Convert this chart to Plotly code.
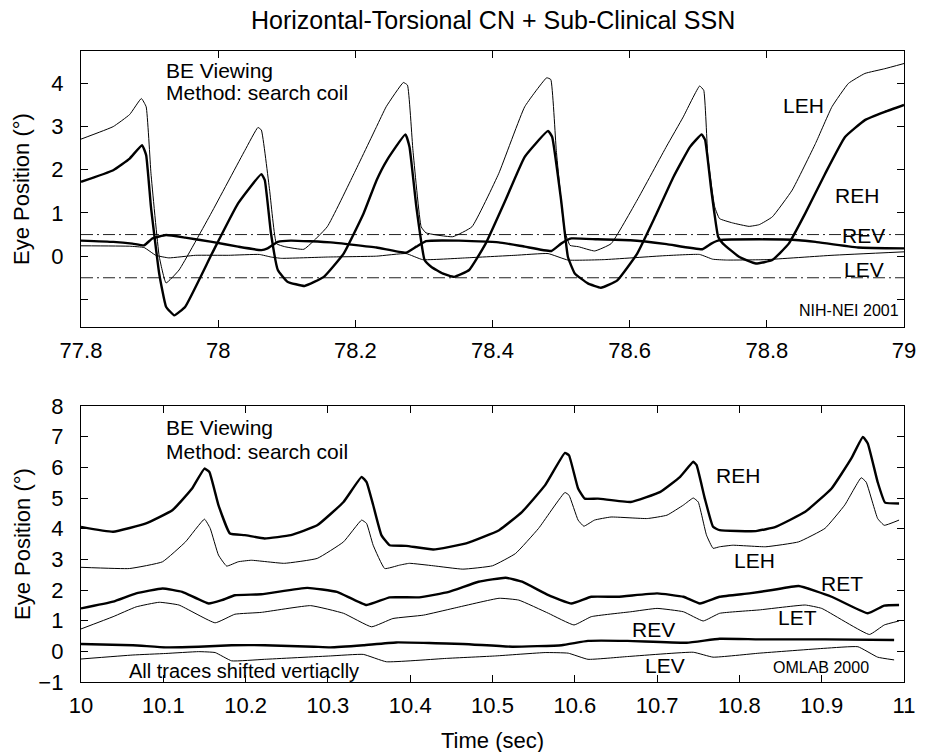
import plotly.graph_objects as go

# ---------------- TOP PANEL DATA (time 77.8 - 79 s) ----------------
top_leh_t = [77.800, 77.847, 77.871, 77.888, 77.895, 77.902, 77.914, 77.924, 77.943, 77.990,
             78.039, 78.058, 78.063, 78.075, 78.085, 78.097, 78.125, 78.159, 78.198, 78.231,
             78.245, 78.270, 78.276, 78.284, 78.296, 78.303, 78.342, 78.370, 78.409, 78.447,
             78.479, 78.485, 78.493, 78.505, 78.513, 78.525, 78.549, 78.573, 78.611, 78.654,
             78.678, 78.702, 78.708, 78.714, 78.724, 78.731, 78.750, 78.774, 78.789, 78.808,
             78.837, 78.871, 78.895, 78.919, 78.943, 78.972, 79.000]
top_leh_y = [2.71, 3.00, 3.28, 3.65, 3.46, 1.92, 0.00, -0.62, -0.32, 1.00,
             2.45, 2.98, 2.92, 1.53, 0.29, 0.22, 0.16, 0.68, 1.91, 3.00,
             3.46, 4.02, 3.96, 2.45, 0.68, 0.54, 0.45, 0.68, 1.91, 3.46,
             4.13, 4.09, 2.45, 0.60, 0.25, 0.22, 0.12, 0.29, 1.30, 2.55,
             3.22, 3.94, 3.84, 2.30, 1.14, 0.87, 0.77, 0.69, 0.73, 0.91,
             1.53, 2.61, 3.46, 4.00, 4.23, 4.34, 4.46]

top_reh_t = [77.800, 77.847, 77.871, 77.889, 77.895, 77.902, 77.914, 77.924, 77.936, 77.952,
             77.991, 78.029, 78.063, 78.068, 78.077, 78.087, 78.101, 78.126, 78.154, 78.183,
             78.212, 78.231, 78.246, 78.273, 78.279, 78.289, 78.301, 78.311, 78.327, 78.344,
             78.366, 78.390, 78.419, 78.447, 78.481, 78.487, 78.500, 78.510, 78.520, 78.539,
             78.558, 78.582, 78.611, 78.637, 78.664, 78.688, 78.705, 78.710, 78.719, 78.729,
             78.736, 78.760, 78.784, 78.808, 78.832, 78.856, 78.885, 78.914, 78.943, 78.972,
             79.000]
top_reh_y = [1.72, 1.99, 2.26, 2.57, 2.34, 1.14, -0.40, -1.17, -1.37, -1.17,
             0.06, 1.22, 1.90, 1.76, 0.53, -0.32, -0.59, -0.69, -0.48, 0.06,
             0.99, 1.76, 2.22, 2.82, 2.53, 1.14, -0.09, -0.25, -0.40, -0.48,
             -0.32, 0.29, 1.30, 2.30, 2.90, 2.76, 1.30, -0.02, -0.40, -0.63,
             -0.73, -0.56, 0.06, 0.91, 1.84, 2.53, 2.82, 2.69, 1.53, 0.45,
             0.29, -0.02, -0.17, -0.09, 0.29, 0.99, 1.91, 2.76, 3.15, 3.34,
             3.50]

top_rev_t = [77.800, 77.847, 77.875, 77.892, 77.904, 77.924, 77.952, 77.991, 78.029, 78.063,
             78.072, 78.087, 78.106, 78.164, 78.231, 78.274, 78.289, 78.303, 78.351, 78.409,
             78.447, 78.486, 78.500, 78.515, 78.553, 78.601, 78.654, 78.706, 78.719, 78.731,
             78.789, 78.847, 78.871, 78.933, 79.000]
top_rev_y = [0.36, 0.33, 0.29, 0.25, 0.41, 0.49, 0.43, 0.33, 0.22, 0.14,
             0.18, 0.33, 0.36, 0.32, 0.20, 0.08, 0.22, 0.35, 0.36, 0.32,
             0.22, 0.12, 0.29, 0.41, 0.39, 0.37, 0.28, 0.16, 0.29, 0.37,
             0.39, 0.37, 0.33, 0.20, 0.18]

top_lev_t = [77.800, 77.871, 77.892, 77.909, 77.928, 77.967, 78.015, 78.060, 78.077, 78.092,
             78.159, 78.231, 78.274, 78.298, 78.361, 78.433, 78.481, 78.510, 78.563, 78.650,
             78.702, 78.721, 78.741, 78.799, 78.895, 79.000]
top_lev_y = [0.24, 0.23, 0.20, 0.02, -0.04, 0.02, 0.02, 0.04, -0.02, -0.05,
             -0.02, 0.00, 0.06, -0.08, -0.04, 0.02, 0.06, -0.09, -0.08, 0.01,
             0.04, -0.07, -0.09, -0.08, 0.02, 0.10]

top_ref_levels = [0.5, -0.5]          # dash-dot reference lines
top_xrange = [77.8, 79.0]
top_xticks = [77.8, 78.0, 78.2, 78.4, 78.6, 78.8, 79.0]
top_xticktext = ["77.8", "78", "78.2", "78.4", "78.6", "78.8", "79"]
top_yticks = [-1, 0, 1, 2, 3, 4]
top_yticktext = ["", "0", "1", "2", "3", "4"]

# ---------------- BOTTOM PANEL DATA (time 10 - 11 s) ----------------
bot_reh_t = [10.000, 10.039, 10.079, 10.111, 10.135, 10.150, 10.156, 10.167, 10.181, 10.199,
             10.223, 10.255, 10.287, 10.319, 10.341, 10.347, 10.355, 10.365, 10.375, 10.395,
             10.428, 10.468, 10.508, 10.536, 10.564, 10.588, 10.593, 10.604, 10.612, 10.628,
             10.668, 10.704, 10.728, 10.744, 10.748, 10.758, 10.768, 10.776, 10.820, 10.844,
             10.880, 10.912, 10.936, 10.950, 10.956, 10.968, 10.977, 10.994]
bot_reh_y = [4.06, 3.90, 4.17, 4.60, 5.31, 5.96, 5.85, 4.77, 3.84, 3.79,
             3.68, 3.79, 4.11, 4.87, 5.69, 5.52, 4.77, 3.79, 3.46, 3.44,
             3.32, 3.52, 3.95, 4.55, 5.42, 6.47, 6.39, 5.31, 4.98, 4.98,
             4.87, 5.20, 5.69, 6.18, 6.07, 4.98, 4.06, 3.95, 3.92, 4.06,
             4.55, 5.31, 6.29, 6.99, 6.78, 5.52, 4.85, 4.82]

bot_leh_t = [10.000, 10.059, 10.099, 10.127, 10.150, 10.157, 10.167, 10.177, 10.191, 10.207,
             10.247, 10.287, 10.319, 10.341, 10.347, 10.355, 10.369, 10.387, 10.399, 10.428,
             10.464, 10.500, 10.528, 10.556, 10.588, 10.593, 10.604, 10.611, 10.624, 10.644,
             10.688, 10.712, 10.732, 10.744, 10.750, 10.760, 10.768, 10.776, 10.792, 10.832,
             10.872, 10.904, 10.928, 10.948, 10.954, 10.968, 10.976, 10.994]
bot_leh_y = [2.74, 2.70, 2.92, 3.57, 4.31, 4.01, 3.14, 2.78, 2.92, 2.97,
             2.87, 3.03, 3.57, 4.28, 4.17, 3.46, 2.70, 2.81, 2.87, 2.79,
             2.68, 2.79, 3.19, 4.01, 5.18, 5.09, 4.28, 4.08, 4.28, 4.38,
             4.33, 4.44, 4.77, 5.00, 4.87, 3.79, 3.36, 3.41, 3.46, 3.41,
             3.57, 4.01, 4.77, 5.66, 5.52, 4.33, 4.11, 4.28]

bot_ret_t = [10.000, 10.039, 10.067, 10.099, 10.123, 10.155, 10.171, 10.187, 10.219, 10.275,
             10.311, 10.347, 10.375, 10.411, 10.447, 10.483, 10.516, 10.536, 10.568, 10.596,
             10.620, 10.652, 10.700, 10.732, 10.752, 10.776, 10.812, 10.840, 10.872, 10.912,
             10.956, 10.976, 10.994]
bot_ret_y = [1.40, 1.62, 1.89, 2.05, 1.94, 1.56, 1.67, 1.83, 1.86, 2.07,
             1.94, 1.51, 1.76, 1.76, 1.94, 2.27, 2.40, 2.27, 1.83, 1.56,
             1.78, 1.78, 1.89, 1.78, 1.56, 1.78, 1.89, 2.00, 2.13, 1.78,
             1.24, 1.49, 1.51]

bot_let_t = [10.000, 10.039, 10.067, 10.095, 10.119, 10.163, 10.187, 10.219, 10.279, 10.319,
             10.353, 10.379, 10.416, 10.452, 10.508, 10.532, 10.568, 10.599, 10.620, 10.668,
             10.700, 10.732, 10.756, 10.776, 10.824, 10.880, 10.900, 10.958, 10.976, 10.994]
bot_let_y = [0.73, 1.13, 1.45, 1.60, 1.51, 0.93, 1.21, 1.27, 1.49, 1.24,
             0.80, 1.07, 1.18, 1.40, 1.73, 1.67, 1.24, 0.86, 1.13, 1.29,
             1.40, 1.29, 0.99, 1.24, 1.35, 1.51, 1.40, 0.55, 0.86, 0.99]

bot_rev_t = [10.000, 10.063, 10.103, 10.143, 10.183, 10.223, 10.283, 10.303, 10.343, 10.383,
             10.464, 10.524, 10.584, 10.616, 10.664, 10.736, 10.776, 10.824, 10.904, 10.988]
bot_rev_y = [0.24, 0.20, 0.13, 0.15, 0.20, 0.20, 0.15, 0.13, 0.20, 0.29,
             0.24, 0.15, 0.20, 0.34, 0.34, 0.28, 0.41, 0.39, 0.39, 0.37]

bot_lev_t = [10.000, 10.063, 10.103, 10.143, 10.163, 10.183, 10.223, 10.303, 10.343, 10.371,
             10.444, 10.504, 10.564, 10.592, 10.616, 10.664, 10.744, 10.768, 10.824, 10.904,
             10.944, 10.968, 10.988]
bot_lev_y = [-0.25, -0.12, -0.07, -0.01, -0.04, -0.31, -0.26, -0.15, -0.10, -0.34,
             -0.23, -0.15, -0.04, -0.06, -0.26, -0.17, -0.03, -0.19, -0.06, 0.10,
             0.15, -0.19, -0.28]

bot_xrange = [10.0, 11.0]
bot_xticks = [10.0, 10.1, 10.2, 10.3, 10.4, 10.5, 10.6, 10.7, 10.8, 10.9, 11.0]
bot_xticktext = ["10", "10.1", "10.2", "10.3", "10.4", "10.5", "10.6", "10.7", "10.8", "10.9", "11"]
bot_yticks = [-1, 0, 1, 2, 3, 4, 5, 6, 7, 8]

FONT = "Liberation Sans, Arial, Helvetica, sans-serif"
THICK = 2.4
THIN = 1.0

fig = go.Figure()

def add(x, y, w, xa, ya, name):
    fig.add_trace(go.Scatter(x=x, y=y, mode="lines", name=name,
                             line=dict(color="black", width=w, shape="spline", smoothing=0.35),
                             xaxis=xa, yaxis=ya, showlegend=False, hoverinfo="skip"))

# reference dash-dot lines (top panel)
for lvl in top_ref_levels:
    fig.add_trace(go.Scatter(x=top_xrange, y=[lvl, lvl], mode="lines",
                             line=dict(color="#222222", width=1, dash="12px,4px,2px,4px"),
                             xaxis="x", yaxis="y", showlegend=False, hoverinfo="skip"))

add(top_leh_t, top_leh_y, THIN, "x", "y", "LEH")
add(top_reh_t, top_reh_y, THICK, "x", "y", "REH")
add(top_rev_t, top_rev_y, THICK, "x", "y", "REV")
add(top_lev_t, top_lev_y, THIN, "x", "y", "LEV")

add(bot_reh_t, bot_reh_y, THICK, "x2", "y2", "REH")
add(bot_leh_t, bot_leh_y, THIN, "x2", "y2", "LEH")
add(bot_ret_t, bot_ret_y, THICK, "x2", "y2", "RET")
add(bot_let_t, bot_let_y, THIN, "x2", "y2", "LET")
add(bot_rev_t, bot_rev_y, THICK, "x2", "y2", "REV")
add(bot_lev_t, bot_lev_y, THIN, "x2", "y2", "LEV")

axis_common = dict(showline=True, linecolor="black", linewidth=1.3, mirror="ticks",
                   ticks="inside", ticklen=7, tickcolor="black", tickwidth=1,
                   showgrid=False, zeroline=False,
                   tickfont=dict(family=FONT, size=22, color="black"))

top_dom = [0.5626, 1.0]
bot_dom = [0.0, 0.4374]

fig.update_layout(
    width=928, height=752,
    margin=dict(l=81, r=15, t=51, b=70),
    paper_bgcolor="white", plot_bgcolor="white",
    font=dict(family=FONT, color="black"),
    xaxis=dict(axis_common, domain=[0, 1], anchor="y", range=top_xrange,
               tickvals=top_xticks, ticktext=top_xticktext, ticklabelstandoff=3),
    yaxis=dict(axis_common, domain=top_dom, anchor="x", range=[-1.64, 4.75],
               tickvals=top_yticks, ticktext=top_yticktext, ticklabelstandoff=12),
    xaxis2=dict(axis_common, domain=[0, 1], anchor="y2", range=bot_xrange,
                tickvals=bot_xticks, ticktext=bot_xticktext, ticklabelstandoff=3),
    yaxis2=dict(axis_common, domain=bot_dom, anchor="x2", range=[-1, 8],
                tickvals=bot_yticks, ticklabelstandoff=12),
)

def ann(text, x, y, xref, yref, size=21, xanchor="center", yanchor="middle", angle=0,
        xshift=0, yshift=0):
    fig.add_annotation(text=text, x=x, y=y, xref=xref, yref=yref, showarrow=False,
                       xanchor=xanchor, yanchor=yanchor, textangle=angle,
                       xshift=xshift, yshift=yshift,
                       font=dict(family=FONT, size=size, color="black"))

# titles
ann("Horizontal-Torsional CN + Sub-Clinical SSN", 0.5, 1.0, "paper", "paper", size=25, yshift=31)
ann("Eye Position (°)", 0, (top_dom[0] + top_dom[1]) / 2, "paper", "paper", size=22, angle=-90, xshift=-59)
ann("Eye Position (°)", 0, (bot_dom[0] + bot_dom[1]) / 2, "paper", "paper", size=22, angle=-90, xshift=-59)
ann("Time (sec)", 0.5, 0, "paper", "paper", size=22, yanchor="top", yshift=-44)

# top panel text
ann("BE Viewing", 77.921, 4.30, "x", "y", xanchor="left")
ann("Method: search coil", 77.921, 3.80, "x", "y", xanchor="left")
ann("LEH", 78.854, 3.48, "x", "y")
ann("REH", 78.932, 1.40, "x", "y")
ann("REV", 78.941, 0.47, "x", "y")
ann("LEV", 78.941, -0.31, "x", "y")
ann("NIH-NEI 2001", 78.995, -1.25, "x", "y", size=16, xanchor="right")

# bottom panel text
ann("BE Viewing", 10.101, 7.29, "x2", "y2", xanchor="left")
ann("Method: search coil", 10.101, 6.51, "x2", "y2", xanchor="left")
ann("REH", 10.798, 5.72, "x2", "y2")
ann("LEH", 10.818, 2.95, "x2", "y2")
ann("RET", 10.925, 2.21, "x2", "y2")
ann("LET", 10.870, 1.10, "x2", "y2")
ann("REV", 10.696, 0.71, "x2", "y2")
ann("LEV", 10.710, -0.45, "x2", "y2")
ann("All traces shifted vertiaclly", 10.198, -0.63, "x2", "y2", size=20)
ann("OMLAB 2000", 10.899, -0.53, "x2", "y2", size=16)

fig.write_html("out.html", config={"displayModeBar": False},
               post_script="document.body.style.margin='0px';")
